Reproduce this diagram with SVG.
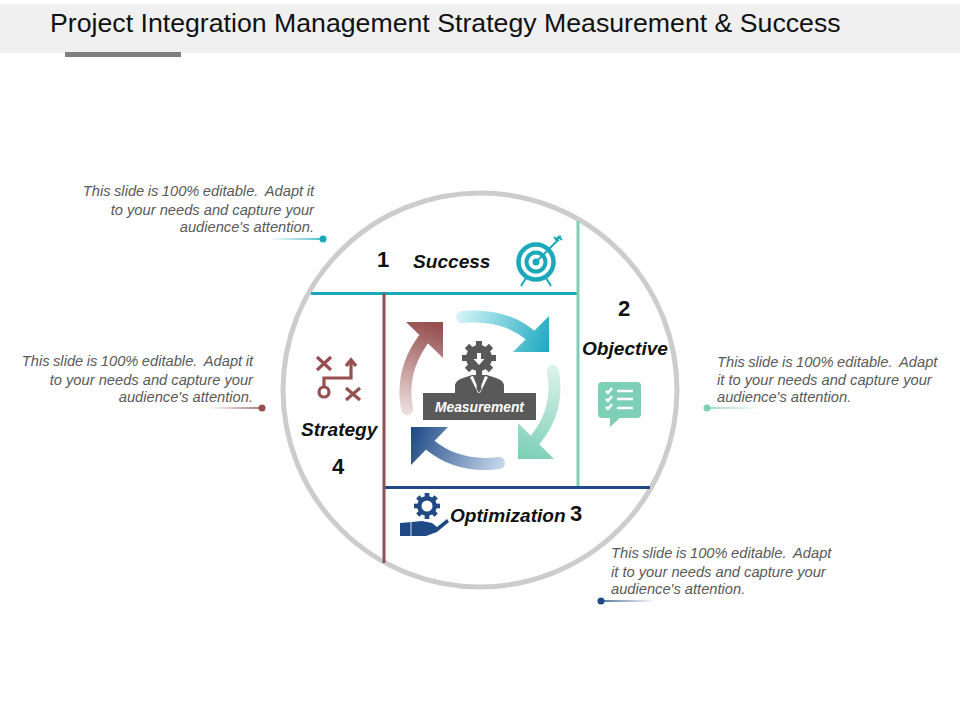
<svg xmlns="http://www.w3.org/2000/svg" width="960" height="720" viewBox="0 0 960 720">
<style>
text{font-family:"Liberation Sans",Arial,sans-serif}
.note{font-size:14.7px;font-style:italic;fill:#595959}
.first{word-spacing:-0.6px}
.lab{font-size:19.1px;font-style:italic;font-weight:700;fill:#111}
.num{font-size:22px;font-weight:700;fill:#111;text-anchor:middle}
.arc{fill:none;stroke-width:12;stroke-linecap:round}
</style>
<defs>
<linearGradient id="g1" gradientUnits="userSpaceOnUse" x1="457" y1="317" x2="549" y2="350"><stop offset="0" stop-color="#d4f3f8"/><stop offset="1" stop-color="#1ba9c0"/></linearGradient>
<linearGradient id="g2" gradientUnits="userSpaceOnUse" x1="553" y1="368" x2="530" y2="459"><stop offset="0" stop-color="#daf2ea"/><stop offset="1" stop-color="#7dcfb6"/></linearGradient>
<linearGradient id="g3" gradientUnits="userSpaceOnUse" x1="502" y1="463" x2="411" y2="430"><stop offset="0" stop-color="#c4d5ea"/><stop offset="1" stop-color="#1f4a86"/></linearGradient>
<linearGradient id="g4" gradientUnits="userSpaceOnUse" x1="407" y1="412" x2="435" y2="325"><stop offset="0" stop-color="#ecdcdc"/><stop offset="1" stop-color="#95504f"/></linearGradient>
<linearGradient id="c1" gradientUnits="userSpaceOnUse" x1="323" y1="0" x2="268" y2="0"><stop offset="0" stop-color="#1ba9b9"/><stop offset="1" stop-color="#1ba9b9" stop-opacity="0"/></linearGradient>
<linearGradient id="c2" gradientUnits="userSpaceOnUse" x1="262" y1="0" x2="208" y2="0"><stop offset="0" stop-color="#95504f"/><stop offset="1" stop-color="#95504f" stop-opacity="0"/></linearGradient>
<linearGradient id="c3" gradientUnits="userSpaceOnUse" x1="707" y1="0" x2="762" y2="0"><stop offset="0" stop-color="#7dcfb6"/><stop offset="1" stop-color="#7dcfb6" stop-opacity="0"/></linearGradient>
<linearGradient id="c4" gradientUnits="userSpaceOnUse" x1="601" y1="0" x2="656" y2="0"><stop offset="0" stop-color="#1f4a86"/><stop offset="1" stop-color="#1f4a86" stop-opacity="0"/></linearGradient>
<g id="gear">
<rect x="-1.800" y="-10" width="3.600" height="20"/>
<rect x="-1.800" y="-10" width="3.600" height="20" transform="rotate(45)"/>
<rect x="-1.800" y="-10" width="3.600" height="20" transform="rotate(90)"/>
<rect x="-1.800" y="-10" width="3.600" height="20" transform="rotate(135)"/>
<circle r="7.600"/>
</g>
</defs>
<rect width="960" height="720" fill="#fff"/>
<g id="header">
<rect x="0" y="4" width="960" height="49" fill="#f0f0f0"/>
<rect x="65" y="52" width="116" height="5" fill="#7f7f7f"/>
<text x="50" y="32" font-size="26.700" fill="#111">Project Integration Management Strategy Measurement &amp; Success</text>
</g>
<g id="ring"><circle cx="480" cy="390" r="197" fill="#fff" stroke="#cccccc" stroke-width="5"/></g>
<g id="dividers" stroke-width="3" fill="none">
<path d="M311 293.500H578" stroke="#1ba9b9"/>
<path d="M578 221V487" stroke="#7dcfb6"/>
<path d="M385 487.500H650" stroke="#1f4a86"/>
<path d="M384 293V563" stroke="#8e5252"/>
</g>
<g id="connectors" fill="none" stroke-width="1.500">
<path d="M323 239.010H268" stroke="url(#c1)"/>
<path d="M262 408.010H208" stroke="url(#c2)"/>
<path d="M707 408.010H762" stroke="url(#c3)"/>
<path d="M601 601.010H656" stroke="url(#c4)"/>
</g>
<g id="dots">
<circle cx="323" cy="239" r="3.500" fill="#1ba9b9"/>
<circle cx="262" cy="408" r="3.500" fill="#95504f"/>
<circle cx="707" cy="408" r="3.500" fill="#7dcfb6"/>
<circle cx="601" cy="601" r="3.500" fill="#1f4a86"/>
</g>
<g id="note-1" class="note" text-anchor="end">
<text class="first" x="314" y="196" xml:space="preserve">This slide is 100% editable.  Adapt it</text>
<text x="314" y="215">to your needs and capture your</text>
<text x="314" y="232">audience's attention.</text>
</g>
<g id="note-4" class="note" text-anchor="end">
<text class="first" x="253" y="366" xml:space="preserve">This slide is 100% editable.  Adapt it</text>
<text x="253" y="385">to your needs and capture your</text>
<text x="253" y="402">audience's attention.</text>
</g>
<g id="note-2" class="note">
<text class="first" x="717" y="367" xml:space="preserve">This slide is 100% editable.  Adapt</text>
<text x="717" y="385">it to your needs and capture your</text>
<text x="717" y="402">audience's attention.</text>
</g>
<g id="note-3" class="note">
<text class="first" x="611" y="558" xml:space="preserve">This slide is 100% editable.  Adapt</text>
<text x="611" y="577">it to your needs and capture your</text>
<text x="611" y="594">audience's attention.</text>
</g>
<g id="node-success">
<text class="num" x="383" y="267">1</text>
<text class="lab" x="413" y="268">Success</text>
<g fill="none" stroke="#1ba9b9">
<circle cx="536" cy="262" r="17.500" stroke-width="4.500"/>
<circle cx="536" cy="262" r="9.500" stroke-width="4"/>
<path d="M536 262L558 240" stroke-width="2"/>
<path d="M526 278L521 286M546 278L551 286" stroke-width="2"/>
<path d="M555 240L561 236M554 237L559 241M558 236L562 240" stroke-width="2"/>
</g>
<circle cx="536" cy="262" r="3.500" fill="#1ba9b9"/>
</g>
<g id="node-objective">
<text class="num" x="624" y="316">2</text>
<text class="lab" x="582" y="355">Objective</text>
<path d="M602 382H637a4 4 0 0 1 4 4V414a4 4 0 0 1-4 4H620L610 427V418H602a4 4 0 0 1-4-4V386a4 4 0 0 1 4-4Z" fill="#7dcfb6"/>
<g fill="none" stroke="#fff" stroke-width="2.500">
<path d="M606 391L608 393L612 388M606 399L608 401L612 396M606 407L608 409L612 404"/>
<path d="M617 391H633M617 399H633M617 408H633"/>
</g>
</g>
<g id="node-optimization">
<text class="num" x="576" y="521">3</text>
<text class="lab" x="450" y="522">Optimization</text>
<use href="#gear" transform="translate(427 506) scale(1.300)" fill="#1f4a86"/>
<circle cx="427" cy="506" r="5.500" fill="#fff"/>
<path d="M400 523L412 522L422 521L432 523L437 527L447 519L449 522L437 532L426 536L400 536Z" fill="#1f4a86"/>
<path d="M411 522V536" stroke="#fff" stroke-width="0.800" fill="none"/>
</g>
<g id="node-strategy">
<text class="lab" x="301" y="436">Strategy</text>
<text class="num" x="338" y="474">4</text>
<g fill="none" stroke="#95504f" stroke-width="3.200">
<path d="M317 357L331 370M331 357L317 370"/>
<path d="M346 388L360 400M360 388L346 400"/>
<circle cx="324" cy="392" r="5"/>
<path d="M324 387V378H351V362"/>
<path d="M346 366L351 360L356 366" stroke-width="3.500"/>
</g>
</g>
<g id="cycle">
<path class="arc" d="M462 317Q503 313 530 335" stroke="url(#g1)"/>
<path d="M549 316V352H513Z" fill="url(#g1)"/>
<path class="arc" d="M553 371Q560 410 535 440" stroke="url(#g2)"/>
<path d="M518 423V459H554Z" fill="url(#g2)"/>
<path class="arc" d="M499 463Q458 468 430 445" stroke="url(#g3)"/>
<path d="M448 427H411V465Z" fill="url(#g3)"/>
<path class="arc" d="M407 409Q400 372 423 340" stroke="url(#g4)"/>
<path d="M406 322H443V358Z" fill="url(#g4)"/>
</g>
<g id="node-measurement">
<use href="#gear" transform="translate(479 358) scale(1.700)" fill="#595959"/>
<path d="M477 353H481V359H484.500L479 365L473.500 359H477Z" fill="#fff"/>
<path d="M455 393V385Q456 380 463 378L472 375H487L496 378Q503 380 504 385V393Z" fill="#595959"/>
<path d="M473 376L477 386L479 379L481 386L485 376L488 377L480 393H478L470 377Z" fill="#fff"/>
<path d="M477.500 379H480.500L481.500 389L479 393L476.500 389Z" fill="#595959"/>
<rect x="423" y="393" width="113" height="27" fill="#595959"/>
<text x="479.500" y="411.500" font-size="13.800" font-weight="700" font-style="italic" fill="#fff" text-anchor="middle">Measurement</text>
</g>
</svg>
